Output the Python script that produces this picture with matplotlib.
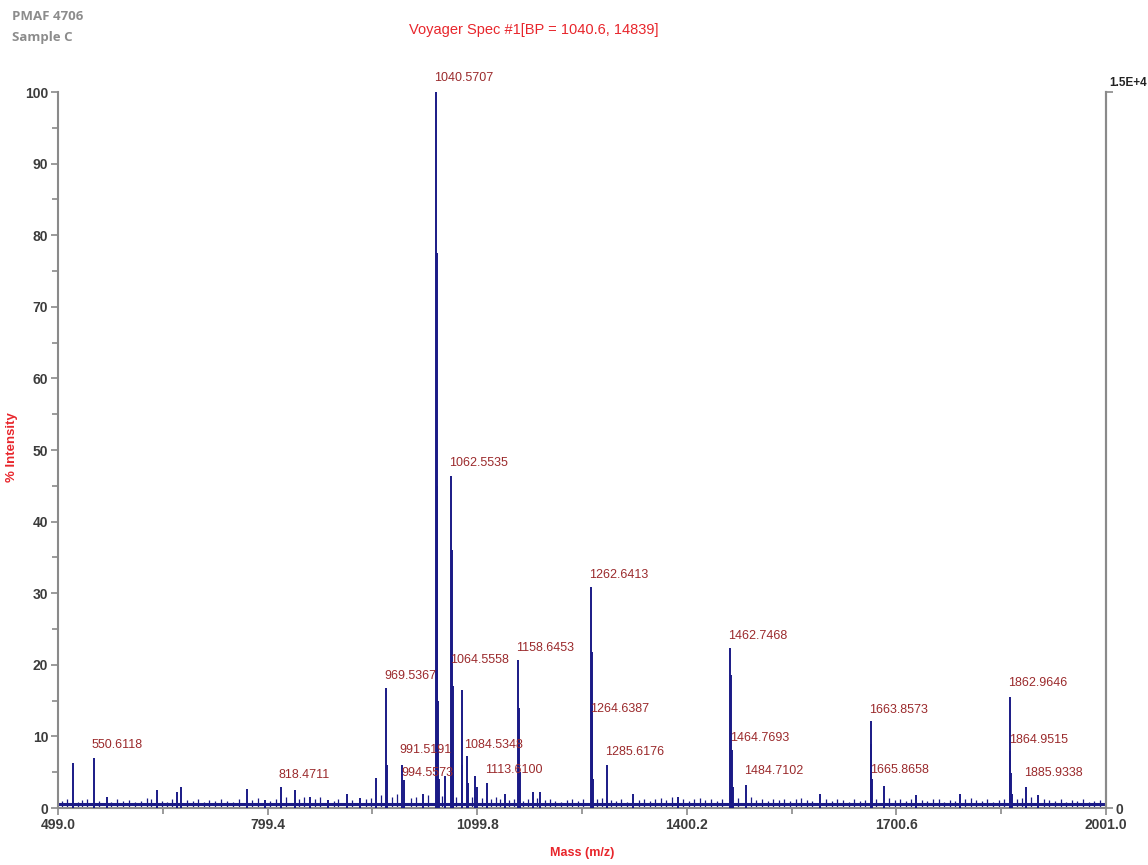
import numpy as np
import matplotlib
matplotlib.use("Agg")
import matplotlib.pyplot as plt

# Fonts: narrow sans like the instrument software, fall back if missing
narrow = ['Liberation Sans Narrow', 'Liberation Sans', 'DejaVu Sans']
plt.rcParams['font.family'] = narrow

# Main peaks (m/z, % intensity)
peak_mz = [520.6, 550.61, 568.8, 640.5, 669.0, 675.0, 769.5, 795.7, 818.47, 838.7,
           860.0, 886.0, 912.8, 931.8, 954.8, 969.54, 970.54, 991.52, 994.56, 1022.0,
           1040.57, 1041.57, 1042.57, 1043.57, 1044.6, 1053.7, 1062.55, 1063.55, 1064.56,
           1065.56, 1077.6, 1078.6, 1084.53, 1087.0, 1096.7, 1100.0, 1113.61, 1139.7,
           1158.65, 1159.65, 1160.65, 1179.3, 1190.0, 1262.64, 1263.64, 1264.64, 1265.64,
           1285.62, 1323.0, 1387.6, 1462.75, 1463.75, 1464.77, 1465.77, 1484.71, 1591.0,
           1663.86, 1664.86, 1665.87, 1682.9, 1729.0, 1791.8, 1862.96, 1863.96, 1864.95,
           1865.95, 1885.93, 1903.6]
peak_int = [6.3, 7.0, 1.6, 2.5, 2.3, 3.0, 2.6, 1.1, 2.9, 2.5,
            1.6, 1.1, 2.0, 1.4, 4.2, 16.8, 6.0, 6.0, 3.9, 2.0,
            100.0, 77.5, 45.0, 15.0, 4.0, 4.4, 46.4, 36.0, 17.0,
            5.0, 16.5, 6.0, 7.2, 3.5, 4.4, 3.0, 3.5, 2.0,
            20.7, 14.0, 5.0, 2.3, 2.3, 30.9, 21.8, 12.3, 4.0,
            6.0, 2.0, 1.6, 22.3, 18.6, 8.1, 3.0, 3.2, 2.0,
            12.1, 9.0, 4.0, 3.1, 1.8, 2.0, 15.5, 7.9, 4.9,
            2.0, 3.0, 1.8]

# Baseline fuzz (small peaks along the trace)
minor_mz = [505, 512, 527, 534, 541, 558, 575, 583, 592, 601, 610, 618, 627, 633, 648,
            655, 662, 684, 692, 700, 708, 716, 724, 733, 741, 750, 758, 777, 785, 803,
            811, 826, 845, 852, 868, 875, 894, 901, 920, 940, 947, 962, 978, 985, 1005,
            1012, 1030, 1049, 1070, 1092, 1106, 1120, 1127, 1133, 1146, 1152, 1166, 1172,
            1185, 1197, 1204, 1212, 1220, 1228, 1236, 1244, 1251, 1272, 1279, 1292, 1299,
            1306, 1314, 1331, 1339, 1347, 1355, 1363, 1371, 1379, 1395, 1403, 1411, 1419,
            1427, 1435, 1443, 1451, 1473, 1492, 1500, 1508, 1516, 1524, 1532, 1540, 1548,
            1556, 1564, 1572, 1580, 1600, 1608, 1616, 1624, 1632, 1640, 1648, 1656, 1672,
            1690, 1698, 1706, 1714, 1721, 1737, 1745, 1753, 1761, 1769, 1777, 1785, 1799,
            1807, 1815, 1823, 1831, 1839, 1847, 1855, 1873, 1880, 1894, 1912, 1920, 1928,
            1936, 1944, 1952, 1960, 1968, 1976, 1984, 1992]
minor_int = [1.0, 1.2, 0.9, 1.1, 1.3, 1.0, 0.8, 1.2, 1.0, 1.1, 0.9, 1.0, 1.4, 1.2, 1.0,
             0.9, 1.3, 1.1, 1.0, 1.2, 0.9, 1.1, 1.0, 1.3, 1.0, 0.9, 1.2, 1.1, 1.4, 1.0,
             1.3, 1.5, 1.2, 1.6, 1.3, 1.5, 1.0, 1.2, 1.1, 1.3, 1.4, 1.8, 1.5, 1.9, 1.4,
             1.6, 1.8, 1.7, 1.5, 1.6, 1.4, 1.3, 1.5, 1.2, 1.1, 1.3, 1.0, 1.2,
             1.4, 1.1, 1.3, 1.0, 0.9, 1.1, 1.2, 1.0, 1.3, 1.2, 1.4, 1.1, 1.0,
             1.2, 0.9, 1.1, 1.3, 1.0, 1.2, 1.4, 1.1, 1.5, 1.3, 1.0, 1.2, 1.4,
             1.1, 1.3, 1.0, 1.2, 1.4, 1.5, 1.1, 1.3, 1.0, 1.2, 1.1, 1.3, 1.0,
             1.2, 1.4, 1.1, 1.0, 1.2, 1.0, 1.3, 1.1, 0.9, 1.2, 1.0, 1.1, 1.3,
             1.4, 1.1, 1.3, 1.0, 1.2, 1.1, 1.0, 1.3, 1.2, 0.9, 1.1, 1.0, 1.2,
             1.4, 1.1, 1.0, 1.2, 0.9, 1.1, 1.3, 1.2, 1.4, 1.5, 1.3, 1.1, 1.0,
             1.2, 0.9, 1.1, 1.0, 1.2, 0.9, 1.0, 1.1]
baseline_level = 0.5

# Peak annotations: text and height (% units) of the label centre
label_text = ['550.6118', '818.4711', '969.5367', '991.5191', '994.5573', '1040.5707',
              '1062.5535', '1064.5558', '1084.5348', '1113.6100', '1158.6453', '1262.6413',
              '1264.6387', '1285.6176', '1462.7468', '1464.7693', '1484.7102', '1663.8573',
              '1665.8658', '1862.9646', '1864.9515', '1885.9338']
label_y = [8.8, 4.6, 18.4, 8.1, 4.9, 102.0,
           48.2, 20.7, 8.8, 5.3, 22.3, 32.5,
           13.8, 7.8, 24.0, 9.8, 5.2, 13.7,
           5.3, 17.5, 9.5, 4.9]

x_min, x_max = 499.0, 2001.0
x_ticks = np.linspace(x_min, x_max, 6)
y_ticks = np.arange(0, 101, 10)

line_col = '#1a1a86'
label_col = '#9b2a2c'
red = '#e8262c'
tick_col = '#3c3c3c'
spine_col = '#8a8a8a'

fig = plt.figure(figsize=(11.48, 8.65), dpi=100)
ax = fig.add_axes([58 / 1148, 1 - 808 / 865, 1048 / 1148, 716 / 865])

# spectrum trace
ax.plot([x_min, x_max], [baseline_level, baseline_level], color=line_col, lw=2.2, zorder=2)
ax.vlines(minor_mz, 0, minor_int, color=line_col, lw=0.9, zorder=2)
ax.vlines(peak_mz, 0, peak_int, color=line_col, lw=1.4, zorder=3)

# peak labels
for txt, yv in zip(label_text, label_y):
    ax.text(float(txt) - 3, yv, txt, ha='left', va='center', fontsize=9,
            color=label_col, zorder=4)

ax.set_xlim(x_min, x_max)
ax.set_ylim(0, 100)

ax.set_xticks(x_ticks)
ax.set_xticklabels(['%.1f' % v for v in x_ticks])
ax.set_xticks(np.linspace(x_min, x_max, 11), minor=True)
ax.set_yticks(y_ticks)
ax.set_yticks(np.arange(5, 100, 10), minor=True)

ax.tick_params(axis='both', which='both', direction='out', colors=spine_col,
               labelcolor=tick_col, labelsize=10, width=1.2)
ax.tick_params(axis='both', which='major', length=5, pad=2)
ax.tick_params(axis='both', which='minor', length=4)
for lab in ax.get_xticklabels() + ax.get_yticklabels():
    lab.set_fontweight('bold')

for side in ['top']:
    ax.spines[side].set_visible(False)
for side in ['left', 'bottom', 'right']:
    ax.spines[side].set_color(spine_col)
    ax.spines[side].set_linewidth(1.5)

# right-hand absolute intensity scale
ax2 = ax.twinx()
ax2.set_ylim(0, 100)
ax2.set_yticks([0, 100])
ax2.set_yticklabels(['0', ''])
ax2.tick_params(axis='y', direction='out', length=5, width=1.2, colors=spine_col,
                labelcolor=tick_col, labelsize=10, pad=2)
for lab in ax2.get_yticklabels():
    lab.set_fontweight('bold')
for side in ['top', 'left', 'bottom']:
    ax2.spines[side].set_visible(False)
ax2.spines['right'].set_color(spine_col)
ax2.spines['right'].set_linewidth(1.5)
ax.annotate('1.5E+4', xy=(1.0, 1.0), xycoords='axes fraction', xytext=(3, 9),
            textcoords='offset pixels', ha='left', va='center', fontsize=8.5,
            fontweight='bold', color='#222222')

# axis titles
ax.set_xlabel('Mass (m/z)', color=red, fontsize=9, fontweight='bold', labelpad=11)
fig.text(12 / 1148, 1 - 447 / 865, '% Intensity', rotation=90, ha='center', va='center',
         color=red, fontsize=9.5, fontweight='bold')

# header
fig.text(534 / 1148, 1 - 30 / 865, 'Voyager Spec #1[BP = 1040.6, 14839]', ha='center',
         va='center', color=red, fontsize=10.5)
fig.text(12 / 1148, 1 - 17 / 865, 'PMAF 4706', ha='left', va='center', color='#8c8c8c',
         fontsize=9.5, fontweight='bold', family=['Open Sans', 'DejaVu Sans'])
fig.text(12 / 1148, 1 - 37 / 865, 'Sample C', ha='left', va='center', color='#8c8c8c',
         fontsize=9.5, fontweight='bold', family=['Open Sans', 'DejaVu Sans'])

fig.savefig('out.png', dpi=100)
